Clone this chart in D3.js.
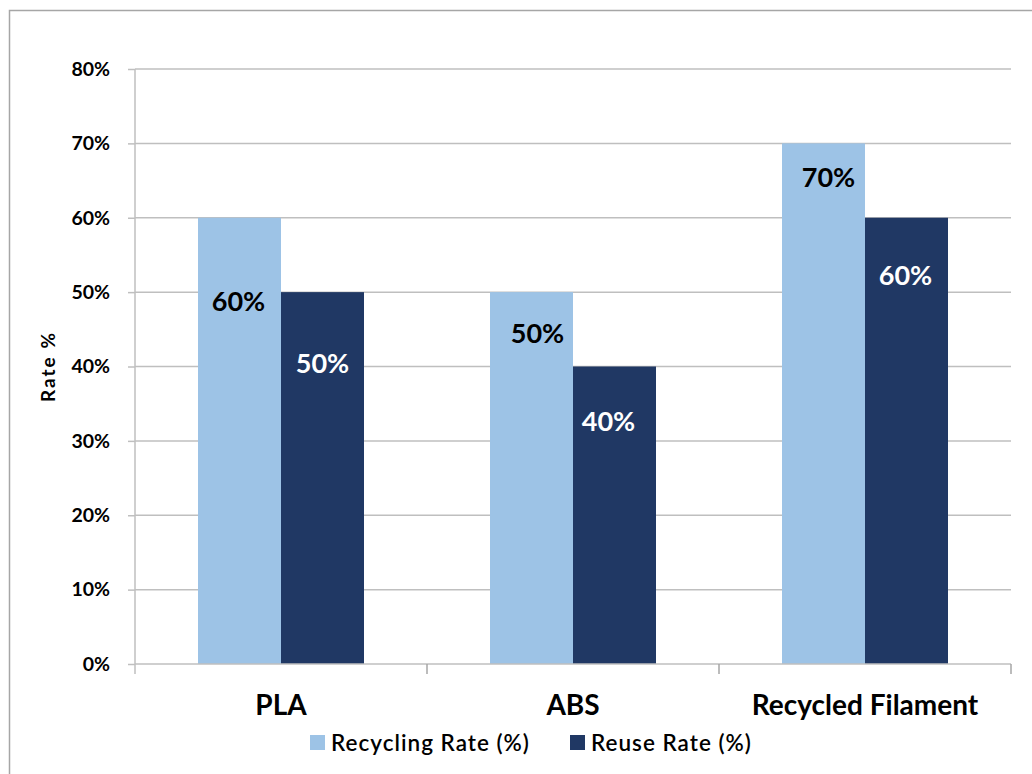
<!DOCTYPE html>
<html>
<head>
<meta charset="utf-8">
<script src="https://cdn.jsdelivr.net/npm/d3@7"></script>
<style>
  html, body { margin: 0; padding: 0; background: #fff; }
  svg { display: block; font-family: Lato, "Open Sans", "Liberation Sans", sans-serif; }
</style>
</head>
<body>
<svg id="chart" width="1032" height="774"></svg>
<script>
// Chart data
const categories = ["PLA", "ABS", "Recycled Filament"];
const seriesNames = ["Recycling Rate (%)", "Reuse Rate (%)"];
const recyclingRate = [60, 50, 70];
const reuseRate = [50, 40, 60];
const yTicks = [0, 10, 20, 30, 40, 50, 60, 70, 80];

// Styling / layout
const colors = ["#9dc3e6", "#203864"];
const labelColors = ["#000000", "#ffffff"];
// how far each value label's centre sits below its bar top (px), per series then category
const labelDrop = [[83, 41, 34], [71, 54, 57]];
const labelShift = [[-1, 6, 5], [0, -6, -1]];

const svg = d3.select("#chart");
const m = { left: 135, right: 1011, top: 69, bottom: 664 };

// Outer frame (runs past the right and bottom edges)
svg.append("rect")
  .attr("x", 9.5).attr("y", 10.5)
  .attr("width", 1040).attr("height", 780)
  .attr("fill", "#fff").attr("stroke", "#a6a6a6").attr("stroke-width", 1.5);

const x = d3.scaleBand().domain(categories).range([m.left, m.right]).paddingInner(0).paddingOuter(0);
const xs = d3.scaleBand().domain(seriesNames).range([0, x.bandwidth()]).paddingInner(0).paddingOuter(0.759);
const y = d3.scaleLinear().domain([0, 80]).range([m.bottom, m.top]);

// Gridlines
svg.append("g")
  .selectAll("line").data(yTicks.filter(t => t > 0)).join("line")
  .attr("x1", m.left).attr("x2", m.right)
  .attr("y1", d => y(d)).attr("y2", d => y(d))
  .attr("stroke", "#bfbfbf").attr("stroke-width", 1.5);

// Y axis
const yAxis = svg.append("g")
  .attr("transform", `translate(${m.left},0)`)
  .call(d3.axisLeft(y).tickValues(yTicks).tickFormat(d => d + "%").tickSize(7).tickPadding(18));
yAxis.select(".domain").attr("stroke", "#bfbfbf").attr("stroke-width", 1.5)
  .attr("d", `M0,${m.top}V${m.bottom + 10}`);
yAxis.selectAll(".tick line").attr("stroke", "#bfbfbf").attr("stroke-width", 1.5);
yAxis.selectAll(".tick text")
  .attr("fill", "#000").attr("font-size", 19.5).attr("font-weight", 700)
  .attr("font-family", "Lato, 'Open Sans', sans-serif");

// Bars
const series = [recyclingRate, reuseRate];
series.forEach((vals, si) => {
  svg.append("g").selectAll("rect").data(categories).join("rect")
    .attr("x", c => x(c) + xs(seriesNames[si]))
    .attr("width", xs.bandwidth())
    .attr("y", (c, i) => y(vals[i]))
    .attr("height", (c, i) => y(0) - y(vals[i]))
    .attr("fill", colors[si]);
});

// X axis
const xAxis = svg.append("g")
  .attr("transform", `translate(0,${m.bottom})`)
  .call(d3.axisBottom(x).tickSize(0));
xAxis.select(".domain").attr("stroke", "#bfbfbf").attr("stroke-width", 1.5)
  .attr("d", `M${m.left},0H${m.right}`);
xAxis.selectAll(".tick text")
  .attr("y", 51).attr("dy", 0)
  .attr("fill", "#000").attr("font-size", 28).attr("font-weight", 700)
  .attr("font-family", "Lato, 'Open Sans', sans-serif");
// category separators
const seps = categories.map(c => x(c)).concat([m.right]);
svg.append("g").selectAll("line").data(seps.slice(1)).join("line")
  .attr("x1", d => d).attr("x2", d => d)
  .attr("y1", m.bottom).attr("y2", m.bottom + 10)
  .attr("stroke", "#a6a6a6").attr("stroke-width", 1.5);

// Value labels
series.forEach((vals, si) => {
  svg.append("g").selectAll("text").data(categories).join("text")
    .attr("x", (c, i) => x(c) + xs(seriesNames[si]) + xs.bandwidth() / 2 + labelShift[si][i])
    .attr("y", (c, i) => y(vals[i]) + labelDrop[si][i] + 10)
    .attr("text-anchor", "middle")
    .attr("font-size", 27).attr("font-weight", 700)
    .attr("fill", labelColors[si])
    .text((c, i) => vals[i] + "%");
});

// Y axis title
svg.append("text")
  .attr("transform", `translate(55,${(m.top + m.bottom) / 2}) rotate(-90)`)
  .attr("text-anchor", "middle")
  .attr("font-size", 19).attr("font-weight", 700).attr("fill", "#000")
  .attr("letter-spacing", 2)
  .text("Rate %");

// Legend
const legendItems = [
  { name: seriesNames[0], color: colors[0], x: 310 },
  { name: seriesNames[1], color: colors[1], x: 570 }
];
const lg = svg.append("g");
legendItems.forEach(it => {
  lg.append("rect").attr("x", it.x).attr("y", 735).attr("width", 15).attr("height", 15).attr("fill", it.color);
  lg.append("text").attr("x", it.x + 21).attr("y", 751)
    .attr("font-size", 22.5).attr("font-weight", 600).attr("fill", "#000")
    .attr("letter-spacing", 1)
    .text(it.name);
});
</script>
</body>
</html>
